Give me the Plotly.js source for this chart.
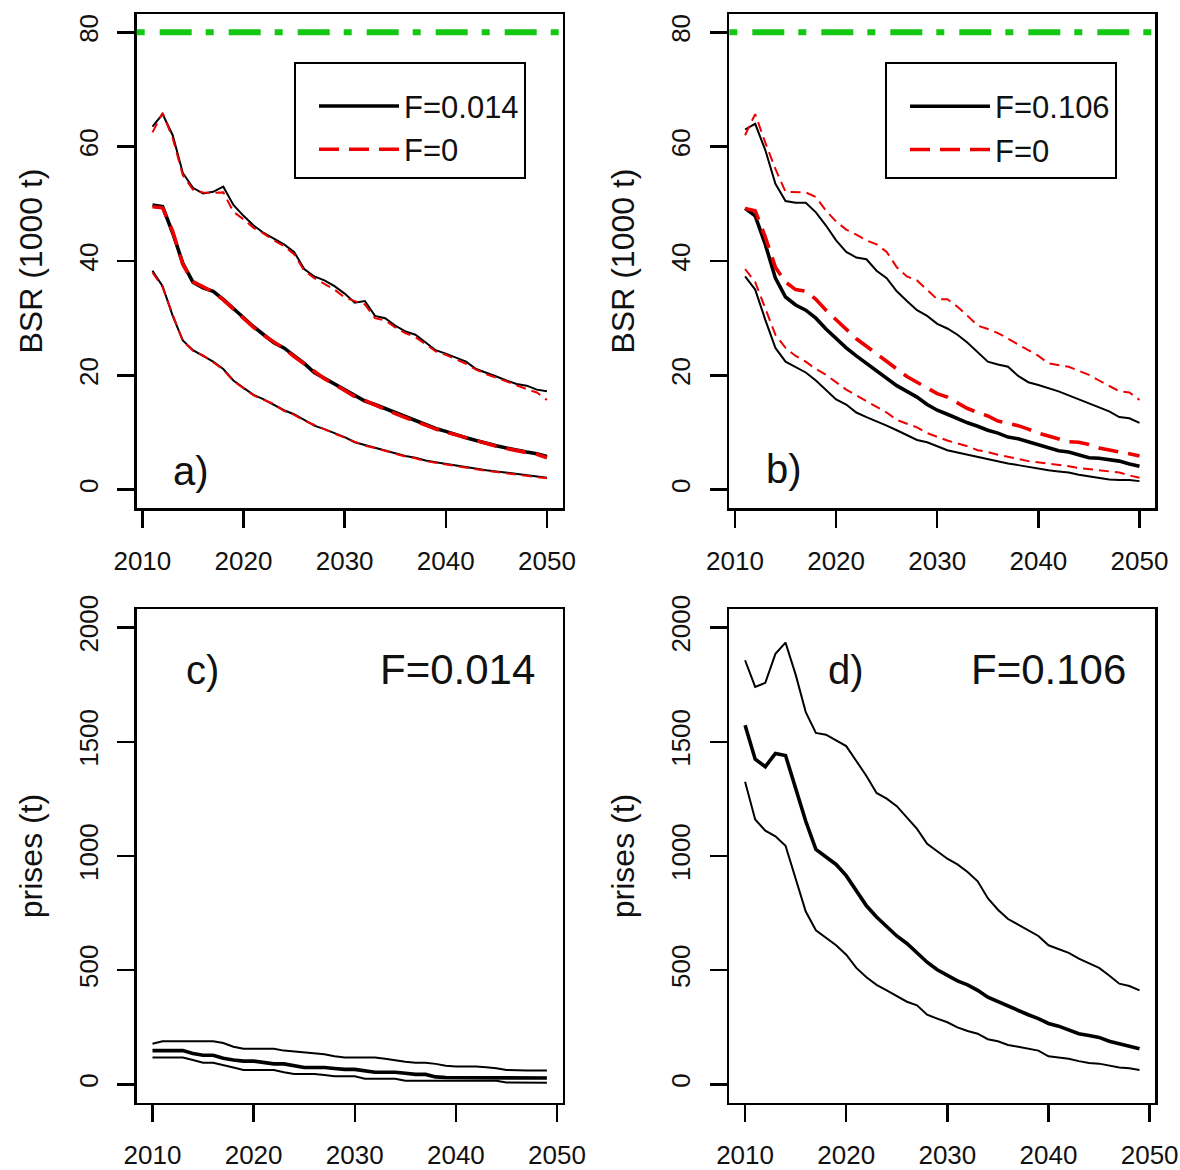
<!DOCTYPE html>
<html>
<head>
<meta charset="utf-8">
<script src="https://cdn.plot.ly/plotly-3.0.1.min.js"></script>
<style>html,body{margin:0;padding:0;background:#fff;} #chart{width:1180px;height:1170px;}</style>
</head>
<body>
<div id="chart"></div>
<script>
// ---------- data ----------
var yearsBSR = [2011,2012,2013,2014,2015,2016,2017,2018,2019,2020,2021,2022,2023,2024,2025,2026,2027,2028,2029,2030,
                2031,2032,2033,2034,2035,2036,2037,2038,2039,2040,2041,2042,2043,2044,2045,2046,2047,2048,2049,2050];
var yearsCatch = [2010,2011,2012,2013,2014,2015,2016,2017,2018,2019,2020,2021,2022,2023,2024,2025,2026,2027,2028,2029,
                  2030,2031,2032,2033,2034,2035,2036,2037,2038,2039,2040,2041,2042,2043,2044,2045,2046,2047,2048,2049];
var refLevel = 80;
var fLow = "F=0.014", fHigh = "F=0.106", fZero = "F=0";

// panel a: BSR (1000 t), F=0.014 (black) vs F=0 (red)
var aUpBlack  = [63.5,65.7,62,55.4,52.8,51.8,52.1,53,49.8,47.9,46.2,44.9,43.9,42.9,41.6,38.6,37.3,36.6,35.6,34.3,32.7,33.0,30.4,30.0,28.7,27.7,27.1,25.7,24.4,23.8,23.1,22.4,21.1,20.5,19.8,19.1,18.5,18.2,17.5,17.2];
var aUpRed    = [62.5,65.9,61.5,55.0,52.5,52.0,51.9,52.0,48.6,47.3,45.8,44.8,43.6,42.6,41.2,38.3,37.0,36.0,35.0,33.6,33.0,32.4,30.0,29.6,28.4,27.4,26.7,25.5,24.2,23.6,22.8,22.0,21.0,20.2,19.6,18.9,18.3,17.6,17.0,15.7];
var aMidBlack = [49.8,49.5,44.9,39.6,36.3,35.3,34.7,33.3,31.7,30.0,28.5,27.1,25.7,24.8,23.4,22.1,20.5,19.5,18.5,17.5,16.4,15.5,14.9,14.2,13.4,12.7,12.1,11.4,10.7,10.2,9.6,9.1,8.6,8.1,7.7,7.3,6.9,6.6,6.3,5.8];
var aMidRed   = [49.5,49.3,45.2,39.4,36.4,35.5,34.6,33.2,31.6,29.9,28.4,27.0,25.8,24.7,23.3,22.0,20.6,19.4,18.4,17.4,16.3,15.6,14.8,14.1,13.3,12.6,12.0,11.3,10.6,10.1,9.5,9.0,8.5,8.0,7.6,7.2,6.8,6.5,6.2,5.6];
var aLowBlack = [38.3,35.6,30.4,26.1,24.4,23.4,22.4,21.1,19.1,17.8,16.6,15.8,14.9,13.9,13.2,12.2,11.2,10.6,9.9,9.2,8.3,7.8,7.4,6.9,6.3,5.9,5.6,5.1,4.8,4.5,4.2,4.0,3.7,3.4,3.2,3.0,2.8,2.5,2.4,2.1];
var aLowRed   = [38.0,35.4,30.6,26.0,24.3,23.5,22.3,21.0,19.0,17.7,16.5,15.7,15.0,13.8,13.1,12.1,11.3,10.5,9.8,9.1,8.4,7.7,7.3,6.8,6.2,5.8,5.5,5.0,4.7,4.4,4.1,3.9,3.6,3.3,3.1,2.9,2.7,2.4,2.3,2.0];

// panel b: BSR (1000 t), F=0.106 (black) vs F=0 (red)
var bUpBlack  = [63,64,59.4,53.5,50.5,50.2,50.2,48.5,46.2,43.6,41.6,40.6,40.3,38.3,37,34.7,33,31.4,30.4,29.0,28.2,27.1,25.7,24.1,22.4,21.9,21.5,19.9,18.8,18.3,17.8,17.2,16.5,15.8,15.2,14.5,13.7,12.7,12.5,11.7];
var bUpRed    = [62,65.7,60.7,56.1,52.1,52.1,52,51.2,48.8,46.9,45.5,44.6,43.6,42.9,41.6,38.9,37.3,36.6,35,33.3,33.3,32.0,30.4,28.7,28.1,27.4,26.4,25.4,24.4,23.4,22.1,21.8,21.5,20.8,20.1,19.1,18.2,17.2,17.0,15.7];
var bMidBlack = [49.2,47.9,42.9,37,33.7,32.3,31.4,30.0,28.1,26.4,24.8,23.4,22.1,20.8,19.5,18.2,17.2,16.2,14.9,13.9,13.2,12.4,11.7,11.1,10.4,9.9,9.2,8.9,8.4,7.8,7.4,6.8,6.6,6.1,5.6,5.5,5.3,5.0,4.5,4.1];
var bMidRed   = [49.2,48.8,44.2,38.9,36.3,35,34.7,33.3,31.4,29.7,28.1,26.4,25.1,23.8,22.4,21.1,19.8,18.8,17.8,16.8,16.2,15.2,14.2,13.5,12.9,12.0,11.6,11.2,10.6,9.9,9.4,8.9,8.4,8.3,7.9,7.3,6.9,6.6,6.3,5.9];
var bLowBlack = [37.3,35,29.7,24.8,22.4,21.5,20.5,19.1,17.5,15.8,14.9,13.5,12.7,12.0,11.2,10.4,9.6,8.7,8.3,7.6,6.9,6.5,6.1,5.8,5.4,5.0,4.6,4.3,4.0,3.6,3.4,3.2,3.0,2.6,2.3,2.1,1.8,1.7,1.7,1.5];
var bLowRed   = [38.6,36.3,31.7,27.1,24.8,23.4,22.4,21.1,20.1,18.8,17.5,16.5,15.5,14.5,13.5,12.2,11.6,10.9,9.9,9.2,8.6,8.1,7.6,6.9,6.6,6.1,5.8,5.4,5.0,4.8,4.5,4.3,4.1,3.8,3.6,3.3,3.2,3.0,2.5,2.1];

// panel c: catches (t), F=0.014
var cUp  = [178,189,189,189,189,189,189,181,165,156,156,156,156,148,144,140,136,132,123,118,118,118,118,112,105,99,95,95,90,82,79,79,79,75,71,63,61,61,61,61];
var cMid = [148,148,148,148,135,128,128,115,107,102,102,94,90,90,82,74,74,74,70,66,66,58,53,53,53,49,44,44,33,30,30,30,30,28,28,28,28,28,28,28];
var cLow = [118,118,118,118,107,95,95,86,74,63,63,63,63,53,46,46,46,41,36,36,36,25,25,25,25,16,16,16,16,16,16,16,16,16,16,8,7,7,7,7];

// panel d: catches (t), F=0.106
var dUp  = [1857,1740,1758,1885,1934,1794,1630,1539,1531,1506,1481,1416,1350,1276,1251,1218,1169,1119,1053,1021,988,963,930,889,815,765,724,700,675,650,609,593,576,551,530,510,477,441,431,412];
var dMid = [1572,1424,1391,1449,1440,1292,1152,1029,996,963,914,848,782,733,691,650,617,576,535,502,477,453,436,412,382,362,342,326,305,288,267,255,239,222,214,206,189,178,168,156];
var dLow = [1325,1160,1111,1086,1045,897,757,675,642,609,568,510,469,436,412,387,362,346,305,288,272,250,234,222,198,189,173,165,156,148,123,119,112,102,94,91,82,74,71,63];

// ---------- styling ----------
var FONT = "Liberation Sans, Arial, Helvetica, sans-serif";
var BLACK = "#000000", RED = "#ee0000", GREEN = "#12c812";
var thin = 2, thick = 3.6;

function ln(x, y, xa, ya, color, width, dash, name, show, leg) {
  return {x: x, y: y, xaxis: xa, yaxis: ya, type: "scatter", mode: "lines",
          line: {color: color, width: width, dash: dash || "solid"},
          name: name || "", showlegend: !!show, legend: leg || "legend", hoverinfo: "skip"};
}
var dThin = "10px,6px", dThick = "20px,10px";

var traces = [
  // panel a
  ln(yearsBSR, aUpBlack, "x", "y", BLACK, thin),
  ln(yearsBSR, aMidBlack, "x", "y", BLACK, thick, "solid", fLow, true, "legend"),
  ln(yearsBSR, aLowBlack, "x", "y", BLACK, thin),
  ln(yearsBSR, aUpRed, "x", "y", RED, thin, dThin),
  ln(yearsBSR, aMidRed, "x", "y", RED, thick, dThick, fZero, true, "legend"),
  ln(yearsBSR, aLowRed, "x", "y", RED, thin, dThin),
  // panel b
  ln(yearsBSR, bUpBlack, "x2", "y2", BLACK, thin),
  ln(yearsBSR, bMidBlack, "x2", "y2", BLACK, thick, "solid", fHigh, true, "legend2"),
  ln(yearsBSR, bLowBlack, "x2", "y2", BLACK, thin),
  ln(yearsBSR, bUpRed, "x2", "y2", RED, thin, dThin),
  ln(yearsBSR, bMidRed, "x2", "y2", RED, thick, dThick, fZero, true, "legend2"),
  ln(yearsBSR, bLowRed, "x2", "y2", RED, thin, dThin),
  // panel c
  ln(yearsCatch, cUp, "x3", "y3", BLACK, thin),
  ln(yearsCatch, cMid, "x3", "y3", BLACK, thick),
  ln(yearsCatch, cLow, "x3", "y3", BLACK, thin),
  // panel d
  ln(yearsCatch, dUp, "x4", "y4", BLACK, thin),
  ln(yearsCatch, dMid, "x4", "y4", BLACK, thick),
  ln(yearsCatch, dLow, "x4", "y4", BLACK, thin)
];

var W = 1180, H = 1170;
function dx(a, b) { return [a / W, b / W]; }
function dy(top, bottom) { return [1 - bottom / H, 1 - top / H]; }

function xax(dom, anchor, range) {
  return {domain: dom, anchor: anchor, range: range, tickvals: [2010, 2020, 2030, 2040, 2050],
          showline: true, mirror: true, linecolor: BLACK, linewidth: 2.5,
          ticks: "outside", ticklen: 17, tickwidth: 2.5, tickcolor: BLACK,
          showgrid: false, zeroline: false, ticklabelstandoff: 11,
          tickfont: {family: FONT, size: 26, color: "#111"}};
}
function yax(dom, anchor, range, ticks, title) {
  return {domain: dom, anchor: anchor, range: range, tickvals: ticks,
          showline: true, mirror: true, linecolor: BLACK, linewidth: 2.5,
          ticks: "outside", ticklen: 17, tickwidth: 2.5, tickcolor: BLACK,
          showgrid: false, zeroline: false, tickangle: -90, ticklabelstandoff: 9,
          tickfont: {family: FONT, size: 26, color: "#111"},
          title: {text: title, font: {family: FONT, size: 32, color: "#111"}, standoff: 22}};
}

var rangeBSRx = [2009.44, 2051.56], rangeCx = [2008.44, 2050.56];
var rangeBSRy = [-3.2, 83.2], rangeCy = [-80, 2080];
var ticksBSR = [0, 20, 40, 60, 80], ticksC = [0, 500, 1000, 1500, 2000];

function legendBox(xpx, ypx) {
  return {x: xpx / W, y: 1 - ypx / H, xanchor: "left", yanchor: "top",
          bgcolor: "#fff", bordercolor: BLACK, borderwidth: 2,
          font: {family: FONT, size: 31, color: "#111"}, itemwidth: 80, indentation: 18,
          tracegroupgap: 0,
          title: {text: " ", font: {family: FONT, size: 12}}};
}

function note(text, xpx, ypx, size) {
  return {text: text, xref: "paper", yref: "paper", x: xpx / W, y: 1 - ypx / H,
          xanchor: "center", yanchor: "middle", showarrow: false,
          font: {family: FONT, size: size, color: "#111"}};
}

function refLine(xref, yref) {
  return {type: "line", xref: xref + " domain", yref: yref, x0: 0, x1: 1, y0: refLevel, y1: refLevel,
          line: {color: GREEN, width: 6, dash: "8px,15px,32px,14px"}};
}

var layout = {
  width: W, height: H, margin: {l: 0, r: 0, t: 0, b: 0},
  paper_bgcolor: "#fff", plot_bgcolor: "#fff",
  xaxis:  xax(dx(136.7, 562.7), "y",  rangeBSRx),
  yaxis:  yax(dy(14, 508), "x",  rangeBSRy, ticksBSR, "BSR (1000 t)"),
  xaxis2: xax(dx(729.3, 1155.3), "y2", rangeBSRx),
  yaxis2: yax(dy(14, 508), "x2", rangeBSRy, ticksBSR, "BSR (1000 t)"),
  xaxis3: xax(dx(136.7, 562.7), "y3", rangeCx),
  yaxis3: yax(dy(609.3, 1102.7), "x3", rangeCy, ticksC, "prises (t)"),
  xaxis4: xax(dx(729.3, 1155.3), "y4", rangeCx),
  yaxis4: yax(dy(609.3, 1102.7), "x4", rangeCy, ticksC, "prises (t)"),
  legend: legendBox(294, 61.7),
  legend2: legendBox(885, 62),
  shapes: [refLine("x", "y"), refLine("x2", "y2")],
  annotations: [
    note("a)", 191, 471, 40),
    note("b)", 784, 469, 40),
    note("c)", 202, 670, 40),
    note(fLow, 457, 669, 42),
    note("d)", 846, 670, 40),
    note(fHigh, 1048, 669, 42)
  ],
  showlegend: true
};

Plotly.newPlot("chart", traces, layout, {staticPlot: true, displayModeBar: false});
</script>
</body>
</html>
